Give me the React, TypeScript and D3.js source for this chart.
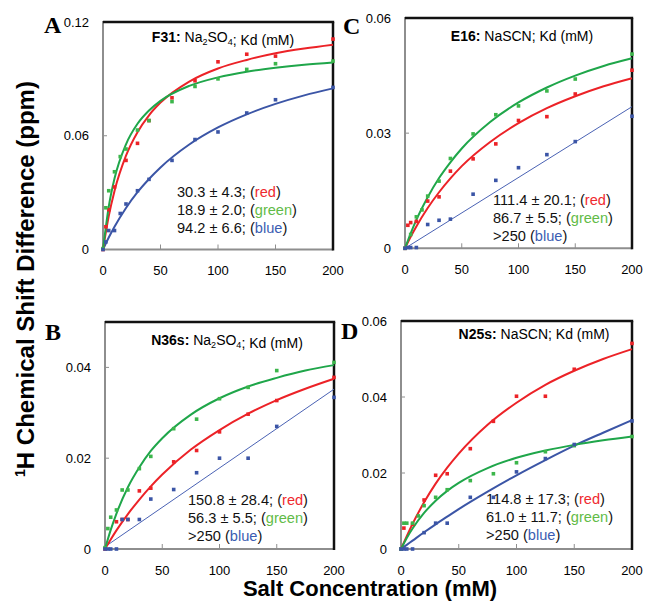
import React from 'react';
import * as d3 from 'd3';

// ---------- shared axis values ----------
const X_TICKS = [0, 50, 100, 150, 200];
const PT_X = [0, 2.5, 5, 10, 15, 20, 30, 40, 60, 80, 100, 125, 150, 200];
const CURVE_X = [0, 5, 10, 20, 30, 40, 50, 75, 100, 125, 150, 175, 200];
const LINE_X = [0, 200];

// ---------- Panel A: F31, Na2SO4 ----------
const A_Y_TICKS = [0, 0.06, 0.12];
const A_RED_PTS = [0, 0.012, 0.021, 0.033, null, 0.047, 0.056, 0.068, 0.080, 0.089, 0.099, 0.103, 0.102, 0.111];
const A_GREEN_PTS = [0.0005, 0.022, 0.031, 0.041, 0.049, 0.053, 0.063, 0.068, 0.078, 0.086, 0.090, 0.095, 0.098, 0.0994];
const A_BLUE_PTS = [0, 0.004, 0.010, 0.010, 0.019, 0.024, 0.031, 0.037, 0.047, 0.058, 0.062, 0.072, 0.079, 0.0855];
const A_RED_FIT = [0, 0.0176, 0.0309, 0.0495, 0.0619, 0.0708, 0.0775, 0.0886, 0.0955, 0.1, 0.1035, 0.106, 0.108];
const A_GREEN_FIT = [0, 0.0226, 0.0374, 0.0555, 0.0663, 0.0733, 0.0784, 0.0863, 0.0908, 0.0938, 0.0959, 0.0975, 0.0987];
const A_BLUE_FIT = [0, 0.0063, 0.012, 0.0219, 0.0302, 0.0372, 0.0433, 0.0554, 0.0644, 0.0713, 0.0768, 0.0813, 0.085];
const A_KD = ['30.3 ± 4.3;', '18.9 ± 2.0;', '94.2 ± 6.6;'];

// ---------- Panel C: E16, NaSCN ----------
const C_Y_TICKS = [0, 0.03, 0.06];
const C_RED_PTS = [0, 0.006, 0.0067, 0.007, null, 0.0123, 0.0134, 0.0201, 0.0233, 0.0272, 0.0333, 0.0343, 0.0402, 0.0464];
const C_GREEN_PTS = [0, null, 0.0036, 0.0082, 0.010, 0.0136, 0.0175, 0.0234, 0.0298, 0.0348, 0.0371, 0.041, 0.0441, 0.0506];
const C_BLUE_PTS = [0, 0.0002, 0.0002, 0.0002, null, 0.0062, 0.0073, 0.0076, 0.0141, 0.0177, 0.021, 0.0244, 0.0278, 0.0344];
const C_RED_FIT = [0, 0.003, 0.0057, 0.0105, 0.0146, 0.0182, 0.0214, 0.0277, 0.0326, 0.0365, 0.0396, 0.0422, 0.0443];
const C_GREEN_FIT = [0, 0.0039, 0.0074, 0.0133, 0.0183, 0.0224, 0.026, 0.0329, 0.038, 0.0419, 0.045, 0.0475, 0.0495];
const C_BLUE_LINE = [0, 0.0369];
const C_KD = ['111.4 ± 20.1;', '86.7 ± 5.5;', '>250'];

// ---------- Panel B: N36s, Na2SO4 ----------
const B_Y_TICKS = [0, 0.02, 0.04];
const B_RED_PTS = [0, null, null, 0.006, 0.0065, 0.0065, 0.0128, 0.0134, 0.0192, 0.0217, 0.0258, 0.0297, 0.0327, 0.0378];
const B_GREEN_PTS = [0.0003, 0.0045, 0.007, 0.0086, 0.013, 0.013, 0.0177, 0.0204, 0.0265, 0.0286, 0.0331, 0.0356, 0.0393, 0.0411];
const B_BLUE_PTS = [0, 0, 0, 0, 0.0065, 0.0065, 0.0065, 0.011, 0.0131, 0.0168, 0.02, 0.02, 0.027, 0.0334];
const B_RED_FIT = [0, 0.0021, 0.0041, 0.0077, 0.0109, 0.0138, 0.0164, 0.0219, 0.0262, 0.0298, 0.0328, 0.0353, 0.0375];
const B_GREEN_FIT = [0, 0.0042, 0.0078, 0.0136, 0.018, 0.0216, 0.0244, 0.0296, 0.0332, 0.0358, 0.0377, 0.0393, 0.0405];
const B_BLUE_LINE = [0.0005, 0.0352];
const B_KD = ['150.8 ± 28.4;', '56.3 ± 5.5;', '>250'];

// ---------- Panel D: N25s, NaSCN ----------
const D_Y_TICKS = [0, 0.02, 0.04, 0.06];
const D_RED_PTS = [0, 0.0055, null, 0.0065, null, 0.0129, 0.0194, 0.0198, 0.0264, 0.0336, 0.0402, 0.0402, 0.0473, 0.0541];
const D_GREEN_PTS = [0, 0.0068, 0.0068, 0.0068, 0.0087, 0.0114, 0.0136, 0.0156, 0.018, 0.0198, 0.0227, 0.0256, 0.0272, 0.0296];
const D_BLUE_PTS = [0, 0, 0, 0, null, 0.0043, 0.0068, 0.0068, 0.0136, 0.0136, 0.0203, 0.0238, 0.0275, 0.0337];
const D_RED_FIT = [0, 0.0034, 0.0066, 0.0123, 0.0172, 0.0214, 0.0251, 0.0327, 0.0385, 0.0432, 0.0469, 0.05, 0.0526];
const D_GREEN_FIT = [0, 0.0029, 0.0054, 0.0095, 0.0127, 0.0153, 0.0174, 0.0213, 0.024, 0.0259, 0.0274, 0.0286, 0.0296];
const D_BLUE_FIT = [0, 0.0011, 0.0022, 0.0044, 0.0065, 0.0085, 0.0105, 0.0151, 0.0194, 0.0234, 0.0272, 0.0306, 0.0339];
const D_KD = ['114.8 ± 17.3;', '61.0 ± 11.7;', '>250'];

const COLOR_WORDS = ['red', 'green', 'blue'];

// ---------- styles ----------
const SANS = '"Liberation Sans", Arial, Helvetica, sans-serif';
const SERIF = '"Liberation Serif", "Times New Roman", serif';
const RED = '#ec2227';
const GREEN = '#1fa64a';
const GREEN_PT = '#3cb64b';
const BLUE = '#3b55a6';
const TXT = { red: '#ef2a2f', green: '#62bb47', blue: '#3a5db2' };
const BORDER_GRAY = '#8e8e8e';

type Fit = { xs: number[]; ys: number[]; color: string; width: number };
type Panel = {
  letter: string;
  left: number; right: number; top: number; bottom: number;
  yMax: number; yTicks: number[];
  label: string; salt: string; titleX: number; titleY: number;
  kd: string[]; kdX: number; kdY: number;
  letterX: number; letterY: number;
  pts: { ys: (number | null)[]; color: string }[];
  fits: Fit[];
};

const PANELS: Panel[] = [
  {
    letter: 'A', left: 103, right: 333, top: 22, bottom: 249.5, yMax: 0.12, yTicks: A_Y_TICKS,
    label: 'F31:', salt: 'Na2SO4', titleX: 223, titleY: 42,
    kd: A_KD, kdX: 177, kdY: 197, letterX: 44, letterY: 33,
    pts: [{ ys: A_RED_PTS, color: RED }, { ys: A_GREEN_PTS, color: GREEN_PT }, { ys: A_BLUE_PTS, color: BLUE }],
    fits: [
      { xs: CURVE_X, ys: A_BLUE_FIT, color: BLUE, width: 2 },
      { xs: CURVE_X, ys: A_RED_FIT, color: RED, width: 2 },
      { xs: CURVE_X, ys: A_GREEN_FIT, color: GREEN, width: 2 },
    ],
  },
  {
    letter: 'C', left: 405, right: 632, top: 18, bottom: 248.3, yMax: 0.06, yTicks: C_Y_TICKS,
    label: 'E16:', salt: 'NaSCN', titleX: 522, titleY: 41,
    kd: C_KD, kdX: 493, kdY: 205, letterX: 343, letterY: 34,
    pts: [{ ys: C_RED_PTS, color: RED }, { ys: C_GREEN_PTS, color: GREEN_PT }, { ys: C_BLUE_PTS, color: BLUE }],
    fits: [
      { xs: LINE_X, ys: C_BLUE_LINE, color: '#4a62b4', width: 1 },
      { xs: CURVE_X, ys: C_RED_FIT, color: RED, width: 2 },
      { xs: CURVE_X, ys: C_GREEN_FIT, color: GREEN, width: 2 },
    ],
  },
  {
    letter: 'B', left: 105, right: 334, top: 322, bottom: 549, yMax: 0.05, yTicks: B_Y_TICKS,
    label: 'N36s:', salt: 'Na2SO4', titleX: 227, titleY: 345,
    kd: B_KD, kdX: 188, kdY: 505, letterX: 45, letterY: 340,
    pts: [{ ys: B_RED_PTS, color: RED }, { ys: B_GREEN_PTS, color: GREEN_PT }, { ys: B_BLUE_PTS, color: BLUE }],
    fits: [
      { xs: LINE_X, ys: B_BLUE_LINE, color: '#4a62b4', width: 1 },
      { xs: CURVE_X, ys: B_RED_FIT, color: RED, width: 2 },
      { xs: CURVE_X, ys: B_GREEN_FIT, color: GREEN, width: 2 },
    ],
  },
  {
    letter: 'D', left: 401, right: 632, top: 321, bottom: 549, yMax: 0.06, yTicks: D_Y_TICKS,
    label: 'N25s:', salt: 'NaSCN', titleX: 534, titleY: 339,
    kd: D_KD, kdX: 486, kdY: 504, letterX: 341, letterY: 339,
    pts: [{ ys: D_RED_PTS, color: RED }, { ys: D_GREEN_PTS, color: GREEN_PT }, { ys: D_BLUE_PTS, color: BLUE }],
    fits: [
      { xs: CURVE_X, ys: D_BLUE_FIT, color: BLUE, width: 2 },
      { xs: CURVE_X, ys: D_RED_FIT, color: RED, width: 2 },
      { xs: CURVE_X, ys: D_GREEN_FIT, color: GREEN, width: 2 },
    ],
  },
];

function Salt({ s }: { s: string }) {
  const parts = s.match(/[A-Za-z]+|\d+/g) || [];
  const out: React.ReactNode[] = [];
  let sub = false;
  parts.forEach((p, i) => {
    if (/\d/.test(p)) {
      out.push(<tspan key={i} fontSize={9} dy={3}>{p}</tspan>);
      sub = true;
    } else {
      out.push(<tspan key={i} dy={sub ? -3 : 0}>{p}</tspan>);
      sub = false;
    }
  });
  return <>{out}</>;
}

function PanelView({ p }: { p: Panel }) {
  const x = d3.scaleLinear().domain([0, 200]).range([p.left, p.right]);
  const y = d3.scaleLinear().domain([0, p.yMax]).range([p.bottom, p.top]);
  const line = d3.line<[number, number]>().x(d => x(d[0])).y(d => y(d[1])).curve(d3.curveMonotoneX);
  const s = 3.6;
  return (
    <g>
      <text x={p.letterX} y={p.letterY} fontFamily={SERIF} fontWeight="bold" fontSize={24}>{p.letter}</text>
      {p.yTicks.map(t => (
        <text key={t} x={p.left - 14} y={y(t) + 4.5} textAnchor="end" fontFamily={SANS} fontSize={13}>{t === 0 ? '0' : String(t)}</text>
      ))}
      {X_TICKS.map(t => (
        <text key={t} x={x(t)} y={p.bottom + 25.5} textAnchor="middle" fontFamily={SANS} fontSize={13}>{t}</text>
      ))}
      {X_TICKS.slice(1, -1).map(t => (
        <line key={'xt' + t} x1={x(t)} x2={x(t)} y1={p.bottom} y2={p.bottom - 5} stroke={BORDER_GRAY} strokeWidth={1} />
      ))}
      {p.yTicks.filter(t => t > 0 && t < p.yMax).map(t => (
        <line key={'yt' + t} x1={p.left} x2={p.left + 4} y1={y(t)} y2={y(t)} stroke={BORDER_GRAY} strokeWidth={1} />
      ))}
      <text x={p.titleX} y={p.titleY} textAnchor="middle" fontFamily={SANS} fontSize={14}>
        <tspan fontWeight="bold">{p.label}</tspan>
        <tspan> </tspan>
        <Salt s={p.salt} />
        <tspan>; Kd (mM)</tspan>
      </text>
      {p.kd.map((k, i) => (
        <text key={i} x={p.kdX} y={p.kdY + i * 18} fontFamily={SANS} fontSize={14.6} fill="#111">
          {k + ' ('}
          <tspan fill={(TXT as any)[COLOR_WORDS[i]]}>{COLOR_WORDS[i]}</tspan>
          {')'}
        </text>
      ))}
      <line x1={p.left} x2={p.left} y1={p.top - 1} y2={p.bottom + 1} stroke={BORDER_GRAY} strokeWidth={2} />
      <line x1={p.left - 1} x2={p.right} y1={p.bottom} y2={p.bottom} stroke={BORDER_GRAY} strokeWidth={2} />
      <line x1={p.left} x2={p.right + 1.2} y1={p.top} y2={p.top} stroke="#111" strokeWidth={2.5} />
      <line x1={p.right} x2={p.right} y1={p.top} y2={p.bottom + 1} stroke="#111" strokeWidth={2.5} />
      {p.fits.map((f, i) => (
        <path key={'f' + i} d={line(f.xs.map((xv, j) => [xv, f.ys[j]] as [number, number])) || ''}
          fill="none" stroke={f.color} strokeWidth={f.width} />
      ))}
      {p.pts.map((ser, si) => (
        <g key={'p' + si}>
          {PT_X.map((xv, j) => ser.ys[j] == null ? null : (
            <rect key={j} x={x(xv) - s / 2} y={y(ser.ys[j] as number) - s / 2} width={s} height={s} fill={ser.color} />
          ))}
        </g>
      ))}
    </g>
  );
}

export default function App() {
  return (
    <svg width={645} height={604} style={{ position: 'absolute', left: 0, top: 0, background: '#fff' }}>
      <rect x={0} y={0} width={645} height={604} fill="#fff" />
      {PANELS.map(p => <PanelView key={p.letter} p={p} />)}
      <text x={370} y={596} textAnchor="middle" fontFamily={SANS} fontWeight="bold" fontSize={22}>Salt Concentration (mM)</text>
      <text transform="translate(34,279) rotate(-90)" textAnchor="middle" fontFamily={SANS} fontWeight="bold" fontSize={24}>
        <tspan fontSize={14} dy={-9}>1</tspan>
        <tspan dy={9}>H Chemical Shift Difference (ppm)</tspan>
      </text>
    </svg>
  );
}
